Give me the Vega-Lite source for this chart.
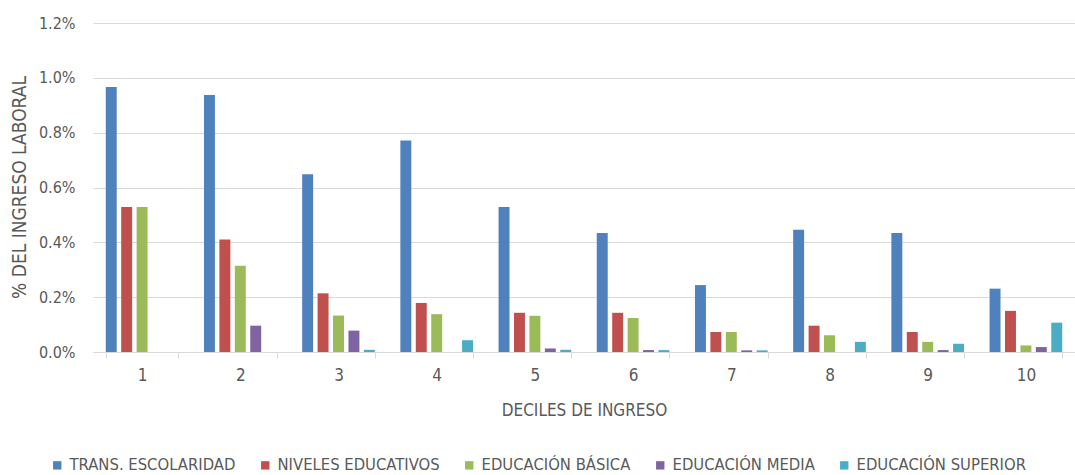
{
  "$schema": "https://vega.github.io/schema/vega-lite/v6.json",
  "width": 982,
  "height": 329,
  "autosize": {"type": "none"},
  "padding": {"left": 93, "top": 23, "right": 0, "bottom": 123},
  "background": "#ffffff",
  "config": {
    "font": "Liberation Sans Narrow, DejaVu Sans Condensed, Liberation Sans",
    "view": {"stroke": null}
  },
  "data": {
    "values": [
      {"decil": 1, "serie": "TRANS. ESCOLARIDAD", "valor": 0.00967},
      {"decil": 1, "serie": "NIVELES EDUCATIVOS", "valor": 0.00529},
      {"decil": 1, "serie": "EDUCACIÓN BÁSICA", "valor": 0.00529},
      {"decil": 2, "serie": "TRANS. ESCOLARIDAD", "valor": 0.00937},
      {"decil": 2, "serie": "NIVELES EDUCATIVOS", "valor": 0.0041},
      {"decil": 2, "serie": "EDUCACIÓN BÁSICA", "valor": 0.00315},
      {"decil": 2, "serie": "EDUCACIÓN MEDIA", "valor": 0.00096},
      {"decil": 3, "serie": "TRANS. ESCOLARIDAD", "valor": 0.00648},
      {"decil": 3, "serie": "NIVELES EDUCATIVOS", "valor": 0.00214},
      {"decil": 3, "serie": "EDUCACIÓN BÁSICA", "valor": 0.00133},
      {"decil": 3, "serie": "EDUCACIÓN MEDIA", "valor": 0.00078},
      {"decil": 3, "serie": "EDUCACIÓN SUPERIOR", "valor": 0.00008},
      {"decil": 4, "serie": "TRANS. ESCOLARIDAD", "valor": 0.00771},
      {"decil": 4, "serie": "NIVELES EDUCATIVOS", "valor": 0.00179},
      {"decil": 4, "serie": "EDUCACIÓN BÁSICA", "valor": 0.00138},
      {"decil": 4, "serie": "EDUCACIÓN SUPERIOR", "valor": 0.00043},
      {"decil": 5, "serie": "TRANS. ESCOLARIDAD", "valor": 0.00529},
      {"decil": 5, "serie": "NIVELES EDUCATIVOS", "valor": 0.00143},
      {"decil": 5, "serie": "EDUCACIÓN BÁSICA", "valor": 0.00132},
      {"decil": 5, "serie": "EDUCACIÓN MEDIA", "valor": 0.00013},
      {"decil": 5, "serie": "EDUCACIÓN SUPERIOR", "valor": 0.00008},
      {"decil": 6, "serie": "TRANS. ESCOLARIDAD", "valor": 0.00434},
      {"decil": 6, "serie": "NIVELES EDUCATIVOS", "valor": 0.00143},
      {"decil": 6, "serie": "EDUCACIÓN BÁSICA", "valor": 0.00124},
      {"decil": 6, "serie": "EDUCACIÓN MEDIA", "valor": 0.00007},
      {"decil": 6, "serie": "EDUCACIÓN SUPERIOR", "valor": 0.00007},
      {"decil": 7, "serie": "TRANS. ESCOLARIDAD", "valor": 0.00244},
      {"decil": 7, "serie": "NIVELES EDUCATIVOS", "valor": 0.00073},
      {"decil": 7, "serie": "EDUCACIÓN BÁSICA", "valor": 0.00073},
      {"decil": 7, "serie": "EDUCACIÓN MEDIA", "valor": 0.00006},
      {"decil": 7, "serie": "EDUCACIÓN SUPERIOR", "valor": 0.00006},
      {"decil": 8, "serie": "TRANS. ESCOLARIDAD", "valor": 0.00446},
      {"decil": 8, "serie": "NIVELES EDUCATIVOS", "valor": 0.00096},
      {"decil": 8, "serie": "EDUCACIÓN BÁSICA", "valor": 0.00061},
      {"decil": 8, "serie": "EDUCACIÓN SUPERIOR", "valor": 0.00037},
      {"decil": 9, "serie": "TRANS. ESCOLARIDAD", "valor": 0.00434},
      {"decil": 9, "serie": "NIVELES EDUCATIVOS", "valor": 0.00073},
      {"decil": 9, "serie": "EDUCACIÓN BÁSICA", "valor": 0.00037},
      {"decil": 9, "serie": "EDUCACIÓN MEDIA", "valor": 0.00007},
      {"decil": 9, "serie": "EDUCACIÓN SUPERIOR", "valor": 0.0003},
      {"decil": 10, "serie": "TRANS. ESCOLARIDAD", "valor": 0.00231},
      {"decil": 10, "serie": "NIVELES EDUCATIVOS", "valor": 0.0015},
      {"decil": 10, "serie": "EDUCACIÓN BÁSICA", "valor": 0.00024},
      {"decil": 10, "serie": "EDUCACIÓN MEDIA", "valor": 0.00018},
      {"decil": 10, "serie": "EDUCACIÓN SUPERIOR", "valor": 0.00107}
    ]
  },
  "mark": {"type": "bar"},
  "encoding": {
    "x": {
      "field": "decil",
      "type": "ordinal",
      "scale": {"paddingInner": 0.26, "paddingOuter": 0.13},
      "axis": {
        "title": "DECILES DE INGRESO",
        "titleFontSize": 17,
        "titleFontWeight": "normal",
        "titleColor": "#595959",
        "titleY": 58,
        "titleBaseline": "middle",
        "labelAngle": 0,
        "labelFontSize": 17,
        "labelColor": "#595959",
        "labelPadding": 9,
        "tickBand": "extent",
        "tickSize": 6,
        "tickColor": "#d9d9d9",
        "domainColor": "#d9d9d9",
        "grid": false
      }
    },
    "xOffset": {
      "field": "serie",
      "sort": ["TRANS. ESCOLARIDAD", "NIVELES EDUCATIVOS", "EDUCACIÓN BÁSICA", "EDUCACIÓN MEDIA", "EDUCACIÓN SUPERIOR"],
      "scale": {"paddingInner": 0.29, "paddingOuter": 0}
    },
    "y": {
      "field": "valor",
      "type": "quantitative",
      "scale": {"domain": [0, 0.012], "nice": false},
      "axis": {
        "values": [0, 0.002, 0.004, 0.006, 0.008, 0.01, 0.012],
        "format": ".1%",
        "title": "% DEL INGRESO LABORAL",
        "titleFontSize": 19,
        "titleFontWeight": "normal",
        "titleColor": "#595959",
        "titleAngle": 270,
        "titleAlign": "center",
        "titleBaseline": "middle",
        "titleX": -74,
        "titleY": 164,
        "labelFontSize": 16,
        "labelColor": "#595959",
        "labelPadding": 18,
        "domain": false,
        "ticks": false,
        "grid": true,
        "gridColor": "#d9d9d9",
        "gridWidth": 1
      }
    },
    "color": {
      "field": "serie",
      "type": "nominal",
      "sort": ["TRANS. ESCOLARIDAD", "NIVELES EDUCATIVOS", "EDUCACIÓN BÁSICA", "EDUCACIÓN MEDIA", "EDUCACIÓN SUPERIOR"],
      "scale": {
        "domain": ["TRANS. ESCOLARIDAD", "NIVELES EDUCATIVOS", "EDUCACIÓN BÁSICA", "EDUCACIÓN MEDIA", "EDUCACIÓN SUPERIOR"],
        "range": ["#4f81bd", "#c0504d", "#9bbb59", "#8064a2", "#4bacc6"]
      },
      "legend": {
        "title": null,
        "orient": "none",
        "direction": "horizontal",
        "legendX": -44,
        "legendY": 434,
        "symbolType": "square",
        "symbolSize": 70,
        "symbolStrokeWidth": 0,
        "labelFontSize": 16.5,
        "labelColor": "#595959",
        "labelOffset": 4,
        "columnPadding": 21,
        "labelLimit": 300
      }
    }
  }
}
